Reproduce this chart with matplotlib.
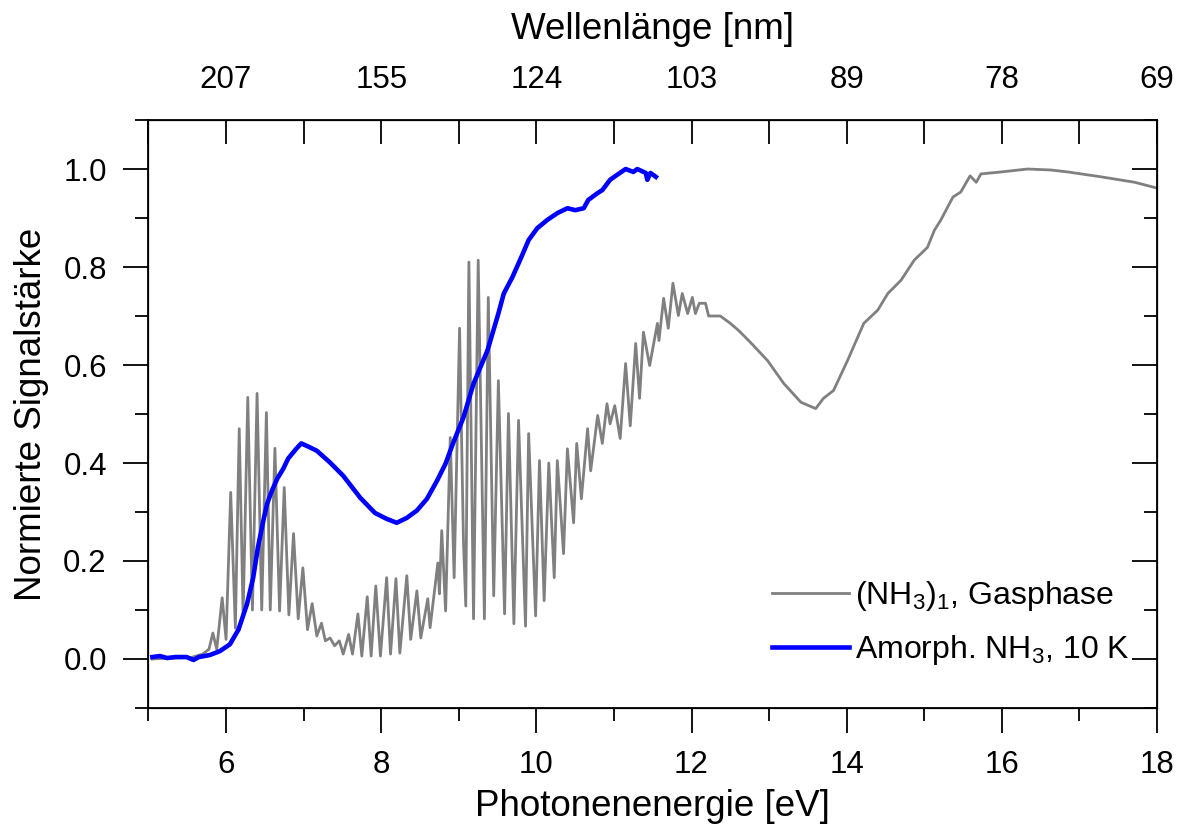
import matplotlib
matplotlib.use('Agg')
import matplotlib.pyplot as plt
from matplotlib.ticker import MultipleLocator

plt.rcParams.update({'font.family': ['Liberation Sans', 'DejaVu Sans'],
                     'mathtext.default': 'regular', 'font.size': 22.5})

# gas phase spectrum (NH3)1, photon energy [eV] vs normalised signal
gas_e = [5.05, 5.3, 5.55, 5.7, 5.78, 5.83, 5.88, 5.95, 6.00, 6.06, 6.12, 6.17, 6.22, 6.28, 6.34,
         6.40, 6.46, 6.52, 6.57, 6.63, 6.69, 6.75, 6.81, 6.87, 6.93, 6.99, 7.05, 7.11, 7.17, 7.23,
         7.28, 7.34, 7.40, 7.46, 7.51, 7.58, 7.63, 7.70, 7.75, 7.82, 7.87, 7.93, 7.99, 8.07, 8.12,
         8.19, 8.24, 8.33, 8.38, 8.46, 8.51, 8.60, 8.63, 8.73, 8.75, 8.78, 8.83, 8.89, 8.94, 9.01,
         9.06, 9.09, 9.13, 9.19, 9.25, 9.33, 9.38, 9.45, 9.51, 9.59, 9.64, 9.71, 9.77, 9.86, 9.90,
         9.99, 10.04, 10.10, 10.16, 10.23, 10.27, 10.35, 10.40, 10.48, 10.52, 10.58, 10.66, 10.70,
         10.79, 10.85, 10.91, 10.95, 11.01, 11.08, 11.15, 11.21, 11.28, 11.33, 11.38, 11.46, 11.56,
         11.58, 11.64, 11.70, 11.76, 11.83, 11.88, 11.95, 12.01, 12.05, 12.10, 12.18, 12.22, 12.29,
         12.37, 12.50, 12.61, 12.76, 12.98, 13.19, 13.41, 13.60, 13.70, 13.83, 14.01, 14.22, 14.40,
         14.53, 14.70, 14.87, 15.04, 15.13, 15.21, 15.30, 15.37, 15.47, 15.59, 15.67, 15.73, 15.99,
         16.33, 16.63, 16.85, 17.28, 17.71, 18.0]
gas_y = [0.0, 0.002, 0.003, 0.01, 0.02, 0.053, 0.02, 0.125, 0.04, 0.34, 0.063, 0.47, 0.09, 0.534, 0.10,
         0.542, 0.10, 0.503, 0.10, 0.43, 0.098, 0.35, 0.09, 0.256, 0.082, 0.186, 0.06, 0.113, 0.047, 0.073,
         0.037, 0.043, 0.027, 0.037, 0.01, 0.05, 0.01, 0.092, 0.006, 0.127, 0.006, 0.149, 0.006, 0.166, 0.01,
         0.164, 0.012, 0.17, 0.04, 0.139, 0.043, 0.123, 0.064, 0.196, 0.133, 0.262, 0.098, 0.452, 0.166, 0.675,
         0.241, 0.108, 0.81, 0.082, 0.814, 0.082, 0.738, 0.129, 0.568, 0.092, 0.501, 0.072, 0.487, 0.067, 0.46,
         0.088, 0.405, 0.119, 0.40, 0.166, 0.405, 0.215, 0.429, 0.278, 0.44, 0.327, 0.47, 0.384,
         0.497, 0.44, 0.521, 0.48, 0.517, 0.45, 0.603, 0.476, 0.644, 0.532, 0.667, 0.599, 0.685,
         0.65, 0.736, 0.675, 0.767, 0.701, 0.746, 0.705, 0.738, 0.705, 0.726, 0.726, 0.70, 0.70,
         0.70, 0.685, 0.67, 0.646, 0.609, 0.562, 0.524, 0.511, 0.532, 0.548, 0.609, 0.685, 0.712,
         0.746, 0.773, 0.814, 0.84, 0.875, 0.895, 0.922, 0.943, 0.953, 0.986, 0.973, 0.99, 0.994,
         1.0, 0.998, 0.994, 0.984, 0.973, 0.961]

# amorphous NH3 film at 10 K
amo_e = [5.05, 5.15, 5.24, 5.35, 5.49, 5.58, 5.65, 5.79, 5.92, 6.05, 6.16, 6.27, 6.35, 6.41, 6.48,
         6.53, 6.59, 6.66, 6.74, 6.80, 6.91, 6.97, 7.08, 7.17, 7.34, 7.51, 7.73, 7.92, 8.07, 8.20,
         8.33, 8.46, 8.59, 8.72, 8.83, 8.93, 9.06, 9.19, 9.37, 9.51, 9.58, 9.69, 9.80, 9.90, 10.01,
         10.14, 10.27, 10.40, 10.50, 10.61, 10.67, 10.79, 10.85, 10.95, 11.04, 11.15, 11.25, 11.30,
         11.41, 11.43, 11.47, 11.54]
amo_y = [0.004, 0.006, 0.002, 0.004, 0.004, -0.002, 0.004, 0.008, 0.016, 0.03, 0.06, 0.112, 0.166, 0.227, 0.282,
         0.317, 0.343, 0.368, 0.389, 0.409, 0.43, 0.44, 0.432, 0.425, 0.401, 0.374, 0.329, 0.298, 0.286, 0.278,
         0.288, 0.303, 0.327, 0.364, 0.399, 0.442, 0.493, 0.562, 0.63, 0.705, 0.746, 0.779, 0.818, 0.855, 0.879,
         0.896, 0.91, 0.92, 0.916, 0.92, 0.937, 0.951, 0.957, 0.978, 0.988, 1.0, 0.994, 1.0,
         0.992, 0.978, 0.992, 0.984]

top_ticks = [6, 8, 10, 12, 14, 16, 18]
top_labels = ['207', '155', '124', '103', '89', '78', '69']

fig = plt.figure(figsize=(11.82, 8.30), dpi=100)
ax = fig.add_axes([0.1256, 0.147, 0.8533, 0.7084])

ax.plot(gas_e, gas_y, color='#808080', lw=2.0, label=r'(NH$_3$)$_1$, Gasphase')
ax.plot(amo_e, amo_y, color='#0000FF', lw=3.3, label=r'Amorph. NH$_3$, 10 K')

ax.set_xlim(5, 18)
ax.set_ylim(-0.1, 1.1)
ax.xaxis.set_major_locator(MultipleLocator(2))
ax.xaxis.set_minor_locator(MultipleLocator(1))
ax.yaxis.set_minor_locator(MultipleLocator(0.1))
ax.set_yticks([0.0, 0.2, 0.4, 0.6, 0.8, 1.0])
ax.set_yticklabels(['0.0', '0.2', '0.4', '0.6', '0.8', '1.0'])
ax.tick_params(which='major', direction='out', length=18, width=1.3, pad=12)
ax.tick_params(which='minor', direction='out', length=9.5, width=1.3)
for s in ax.spines.values():
    s.set_linewidth(1.3)

ax.set_xlabel('Photonenenergie [eV]', fontsize=26.5, labelpad=7)
ax.set_ylabel('Normierte Signalstärke', fontsize=26.5, labelpad=10)

# right axis: inward ticks, no labels
axr = ax.twinx()
axr.set_ylim(ax.get_ylim())
axr.yaxis.set_major_locator(MultipleLocator(0.2))
axr.yaxis.set_minor_locator(MultipleLocator(0.1))
axr.tick_params(which='major', direction='in', length=18, width=1.3, labelright=False)
axr.tick_params(which='minor', direction='in', length=9.5, width=1.3)

# top axis: wavelength
axt = ax.twiny()
axt.set_xlim(ax.get_xlim())
axt.set_xticks(top_ticks)
axt.set_xticklabels(top_labels)
axt.xaxis.set_minor_locator(MultipleLocator(1))
axt.tick_params(which='both', direction='in', length=17, width=1.3, pad=18)
axt.set_xlabel('Wellenlänge [nm]', fontsize=26.5, labelpad=19)

ax.legend(loc='lower right', bbox_to_anchor=(1.002, 0.02), frameon=False, fontsize=23,
          handlelength=2.4, handletextpad=0.2, labelspacing=0.65)

fig.savefig('out.png', dpi=100)
